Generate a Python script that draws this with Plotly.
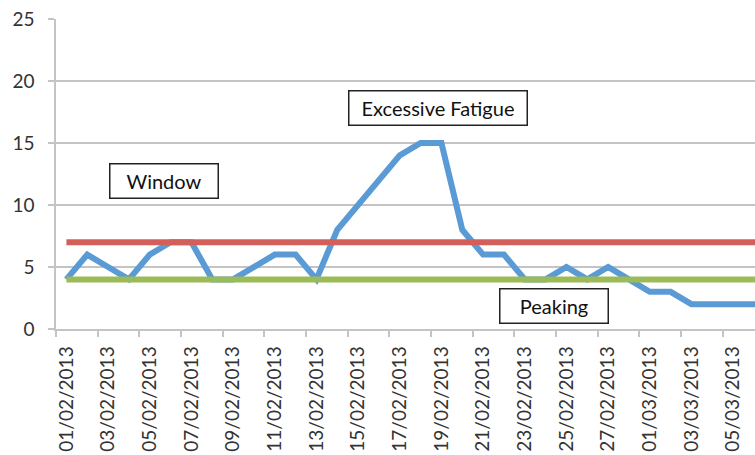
import pandas as pd
import plotly.graph_objects as go

# Daily readings, 1 Feb – 7 Mar 2013
dates = pd.date_range("2013-02-01", "2013-03-07", freq="D")
load = [4, 6, 5, 4, 6, 7, 7, 4, 4, 5, 6, 6, 4, 8, 10, 12, 14, 15, 15, 8,
        6, 6, 4, 4, 5, 4, 5, 4, 3, 3, 2, 2, 2, 2, 2]
upper = [7] * len(dates)   # fatigue threshold
lower = [4] * len(dates)   # peaking threshold

blue = "#5B9BD5"
red = "#D35F5A"
green = "#9BBB59"
grid = "#C4C4C4"
font = "Lato, 'Open Sans', sans-serif"

fig = go.Figure()
fig.add_trace(go.Scatter(x=dates, y=load, mode="lines",
                         line=dict(color=blue, width=6)))
fig.add_trace(go.Scatter(x=dates, y=upper, mode="lines",
                         line=dict(color=red, width=6)))
fig.add_trace(go.Scatter(x=dates, y=lower, mode="lines",
                         line=dict(color=green, width=6)))

day_ms = 86400000
x_start = pd.Timestamp("2013-01-31 12:00")
x_end = x_start + pd.Timedelta(days=33.55)
label_dates = dates[:-2:2]

fig.update_layout(
    width=755, height=455,
    margin=dict(l=56, r=0, t=19, b=126),
    paper_bgcolor="white", plot_bgcolor="white",
    showlegend=False,
    font=dict(family=font, size=19, color="#333333"),
    xaxis=dict(
        type="date",
        range=[x_start, x_end],
        tickvals=list(label_dates),
        ticktext=[d.strftime("%d/%m/%Y") for d in label_dates],
        tickangle=-90,
        ticks="",
        ticklabelstandoff=8,
        showgrid=False,
        showline=True, linecolor=grid, linewidth=1.5,
        zeroline=False,
        minor=dict(ticks="outside", tick0=x_start, dtick=2 * day_ms,
                   ticklen=6, tickcolor=grid, tickwidth=1.5, showgrid=False),
        tickfont=dict(family=font, size=19, color="#333333"),
    ),
    yaxis=dict(
        range=[0, 25],
        tickvals=[0, 5, 10, 15, 20, 25],
        ticks="outside", ticklen=6, tickcolor=grid, tickwidth=1.5,
        ticklabelstandoff=10,
        showgrid=True, gridcolor=grid, gridwidth=1.5,
        showline=True, linecolor=grid, linewidth=1.5,
        zeroline=False,
        tickfont=dict(family=font, size=19, color="#333333"),
    ),
)

boxes = [
    ("Window", 0.1552, 0.477, 107),
    ("Excessive Fatigue", 0.547, 0.7145, 177),
    ("Peaking", 0.713, 0.0726, 107),
]
for text, x, y, w in boxes:
    fig.add_annotation(
        text=text, xref="paper", yref="paper", x=x, y=y,
        xanchor="center", yanchor="middle", showarrow=False,
        width=w, height=33, align="center", valign="middle",
        bgcolor="white", bordercolor="#222222", borderwidth=1.5, borderpad=0,
        font=dict(family=font, size=20, color="#111111"),
    )

fig.write_html("out.html")
